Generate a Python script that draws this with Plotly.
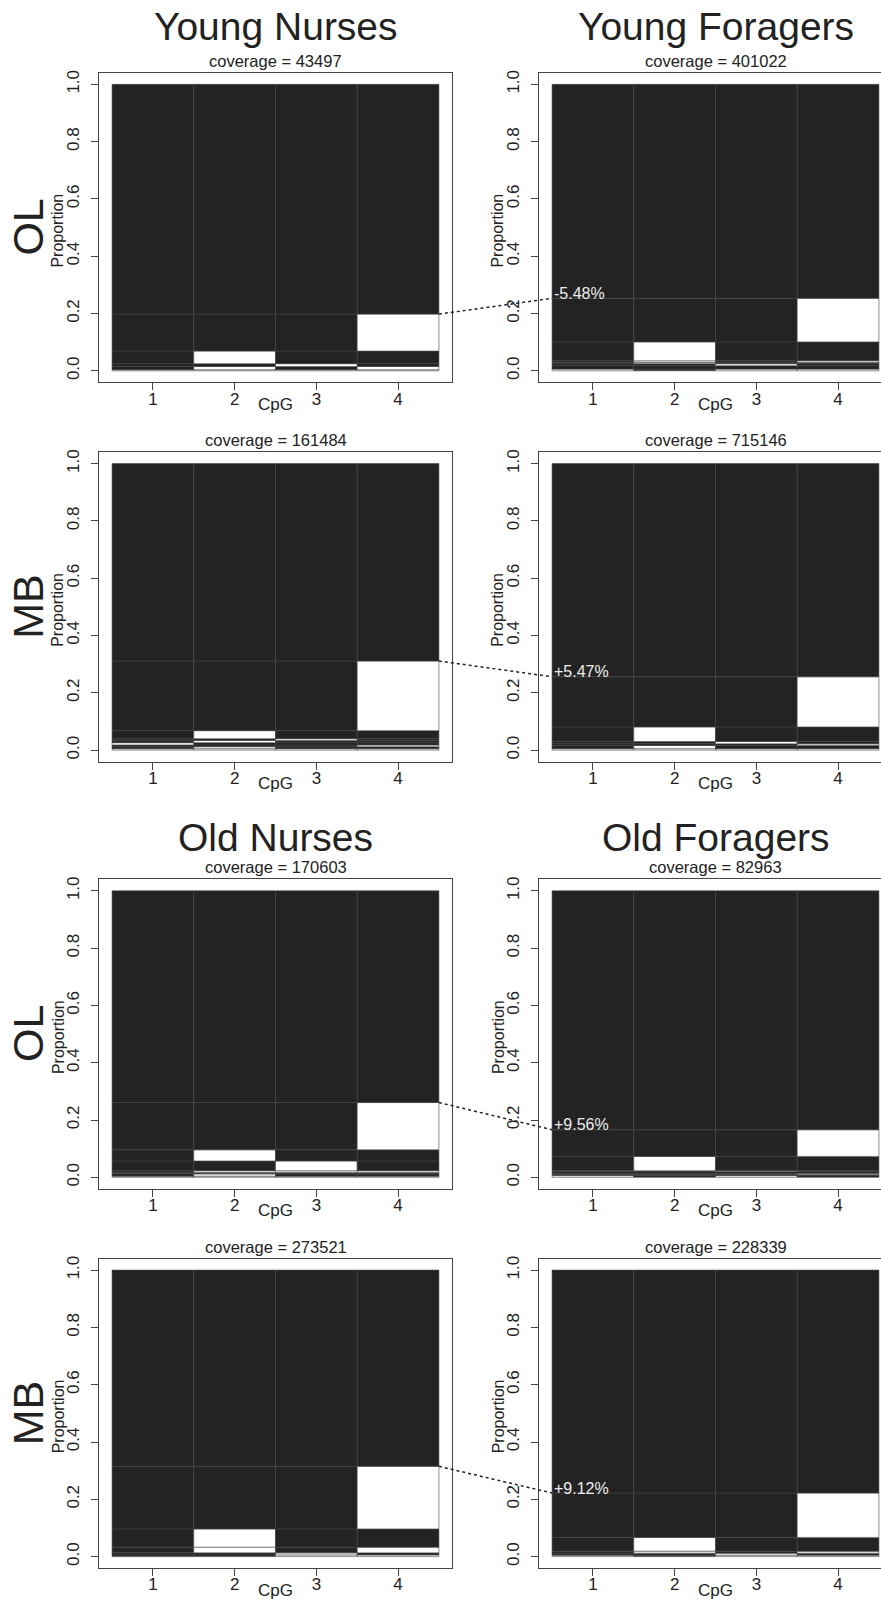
import plotly.graph_objects as go

W, H = 881, 1600

# ---------------- data ----------------
cpg = [1, 2, 3, 4]
cpg_labels = ["1", "2", "3", "4"]
y_ticks = [0, 0.2, 0.4, 0.6, 0.8, 1.0]
y_tick_labels = ["0.0", "0.2", "0.4", "0.6", "0.8", "1.0"]

titles_top = ["Young Nurses", "Young Foragers"]
titles_bottom = ["Old Nurses", "Old Foragers"]
row_labels = ["OL", "MB", "OL", "MB"]

coverage = [43497, 401022, 161484, 715146, 170603, 82963, 273521, 228339]

# cumulative tops of each methylation pattern (bottom -> top) and the pattern (1 = methylated)
yn_ol_tops = [0.004, 0.015, 0.025, 0.069, 0.198, 1.0]
yn_ol_pat = ["0000", "1010", "1101", "1011", "1110", "1111"]

yf_ol_tops = [0.006, 0.018, 0.025, 0.029, 0.035, 0.101, 0.253, 1.0]
yf_ol_pat = ["0100", "1111", "1101", "1011", "1010", "1011", "1110", "1111"]

yn_mb_tops = [0.005, 0.012, 0.018, 0.026, 0.034, 0.040, 0.068, 0.311, 1.0]
yn_mb_pat = ["0000", "1011", "1110", "0111", "1011", "1101", "1011", "1110", "1111"]

yf_mb_tops = [0.005, 0.016, 0.022, 0.030, 0.081, 0.256, 1.0]
yf_mb_pat = ["0000", "1011", "1110", "1101", "1011", "1110", "1111"]

on_ol_tops = [0.004, 0.012, 0.017, 0.023, 0.057, 0.096, 0.261, 1.0]
on_ol_pat = ["0000", "1011", "1111", "1000", "1101", "1011", "1110", "1111"]

of_ol_tops = [0.006, 0.010, 0.014, 0.020, 0.023, 0.073, 0.166, 1.0]
of_ol_pat = ["0101", "1111", "1110", "1111", "1101", "1011", "1110", "1111"]

on_mb_tops = [0.006, 0.013, 0.033, 0.0965, 0.315, 1.0]
on_mb_pat = ["1100", "1101", "1010", "1011", "1110", "1111"]

of_mb_tops = [0.005, 0.012, 0.019, 0.067, 0.222, 1.0]
of_mb_pat = ["0100", "1101", "1010", "1011", "1110", "1111"]

change_labels = ["-5.48%", "+5.47%", "+9.56%", "+9.12%"]

panels = [
    (yn_ol_tops, yn_ol_pat), (yf_ol_tops, yf_ol_pat),
    (yn_mb_tops, yn_mb_pat), (yf_mb_tops, yf_mb_pat),
    (on_ol_tops, on_ol_pat), (of_ol_tops, of_ol_pat),
    (on_mb_tops, on_mb_pat), (of_mb_tops, of_mb_pat),
]

# ---------------- geometry (px) ----------------
row_top_px = [70, 450, 878, 1258]
title_gap = [46, None, 42, None]
box_h = 310
col_left_px = [99, 539]
col_right_px = [452, 881]
px_per_unit = (452 - 99) / 4.32
x_ranges = [[0.34, 4.66], [0.34, 0.34 + (881 - 539) / px_per_unit]]
y_range = [-0.04, 1.04]

BLACK = "#232323"
WHITE = "#ffffff"
FONT = "Liberation Sans, Arial, Helvetica, sans-serif"
TXT = "#222222"


def to_paper(r, c, xv, yv):
    x0, x1 = col_left_px[c], col_right_px[c]
    r0, r1 = x_ranges[c]
    px = x0 + (xv - r0) / (r1 - r0) * (x1 - x0)
    top = row_top_px[r]
    bot = top + box_h
    py = bot - (yv - y_range[0]) / (y_range[1] - y_range[0]) * box_h
    return px / W, 1 - py / H


fig = go.Figure()
layout = {}
annotations = []
shapes = []

for k, (tops, pats) in enumerate(panels):
    r, c = divmod(k, 2)
    suffix = "" if k == 0 else str(k + 1)
    xa, ya = "x" + suffix, "y" + suffix
    base = 0.0
    for top, pat in zip(tops, pats):
        h = top - base
        fig.add_trace(go.Bar(
            x=cpg, y=[h] * 4, base=[base] * 4, width=1,
            marker=dict(color=[BLACK if ch == "1" else WHITE for ch in pat],
                        line=dict(color="#454545", width=0.6)),
            xaxis=xa, yaxis=ya, showlegend=False, hoverinfo="skip"))
        base = top

    top_px = row_top_px[r]
    bot_px = top_px + box_h
    layout["xaxis" + suffix] = dict(
        domain=[col_left_px[c] / W, min(col_right_px[c] / W, 1.0)], range=x_ranges[c],
        anchor=ya, tickvals=cpg, ticktext=cpg_labels, ticks="outside", ticklen=7,
        tickcolor="#444", ticklabelstandoff=-6,
        showline=True, mirror=True, linecolor="#444", linewidth=1,
        showgrid=False, zeroline=False, tickfont=dict(size=17, color=TXT, family=FONT))
    layout["yaxis" + suffix] = dict(
        domain=[1 - bot_px / H, 1 - top_px / H], range=y_range, anchor=xa,
        tickvals=y_ticks, ticktext=y_tick_labels, ticks="outside", ticklen=7,
        tickcolor="#444", tickangle=-90, ticklabelstandoff=5,
        showline=True, mirror=(c == 0), linecolor="#444", linewidth=1,
        showgrid=False, zeroline=False, tickfont=dict(size=17, color=TXT, family=FONT))

    cx = col_left_px[c] + 353 / 2
    annotations.append(dict(text=f"coverage = {coverage[k]}", x=cx / W, y=1 - (top_px - 12) / H,
                            xref="paper", yref="paper", showarrow=False, xanchor="center",
                            yanchor="middle", font=dict(size=16.5, color=TXT, family=FONT)))
    if title_gap[r] is not None:
        t = (titles_top if r == 0 else titles_bottom)[c]
        annotations.append(dict(text=t, x=cx / W, y=1 - (top_px - title_gap[r]) / H,
                                xref="paper", yref="paper", showarrow=False, xanchor="center",
                                yanchor="middle", font=dict(size=39, color=TXT, family=FONT)))
    annotations.append(dict(text="Proportion", x=(col_left_px[c] - 41) / W,
                            y=1 - (top_px + box_h / 2 + 3) / H, xref="paper", yref="paper",
                            showarrow=False, textangle=-90, xanchor="center", yanchor="middle",
                            font=dict(size=16, color=TXT, family=FONT)))
    annotations.append(dict(text="CpG", x=2.5, xref=xa, y=1 - (bot_px + 22) / H, yref="paper",
                            showarrow=False, xanchor="center", yanchor="middle",
                            font=dict(size=17, color=TXT, family=FONT)))
    if c == 0:
        annotations.append(dict(text=row_labels[r], x=28 / W, y=1 - (top_px + box_h / 2) / H,
                                xref="paper", yref="paper", showarrow=False, textangle=-90,
                                xanchor="center", yanchor="middle",
                                font=dict(size=43, color=TXT, family=FONT)))

# connectors between columns: top of the CpG4-unmethylated block ("1110")
for r in range(4):
    lt, lp = panels[2 * r]
    rt, rp = panels[2 * r + 1]
    yl = lt[len(lp) - 1 - lp[::-1].index("1110")]
    yr = rt[len(rp) - 1 - rp[::-1].index("1110")]
    x0p, y0p = to_paper(r, 0, 4.5, yl)
    x1p, y1p = to_paper(r, 1, 0.5, yr)
    shapes.append(dict(type="line", xref="paper", yref="paper", x0=x0p, y0=y0p, x1=x1p, y1=y1p,
                       line=dict(color="#222", width=1.5, dash="3px,3px")))
    suffix = str(2 * r + 2)
    annotations.append(dict(text=change_labels[r], x=0.5, y=yr, xref="x" + suffix, yref="y" + suffix,
                            showarrow=False, xanchor="left", yanchor="middle", yshift=5,
                            font=dict(size=16, color="#eeeeee", family=FONT)))

fig.update_layout(**layout)
fig.update_layout(
    width=W, height=H, margin=dict(l=0, r=0, t=0, b=0),
    paper_bgcolor="white", plot_bgcolor="white", barmode="overlay",
    annotations=annotations, shapes=shapes, showlegend=False,
    font=dict(family=FONT, color=TXT))

fig.write_html(
    "out.html",
    config={"displayModeBar": False},
    post_script="document.body.style.margin='0';document.body.style.overflow='hidden';",
)
